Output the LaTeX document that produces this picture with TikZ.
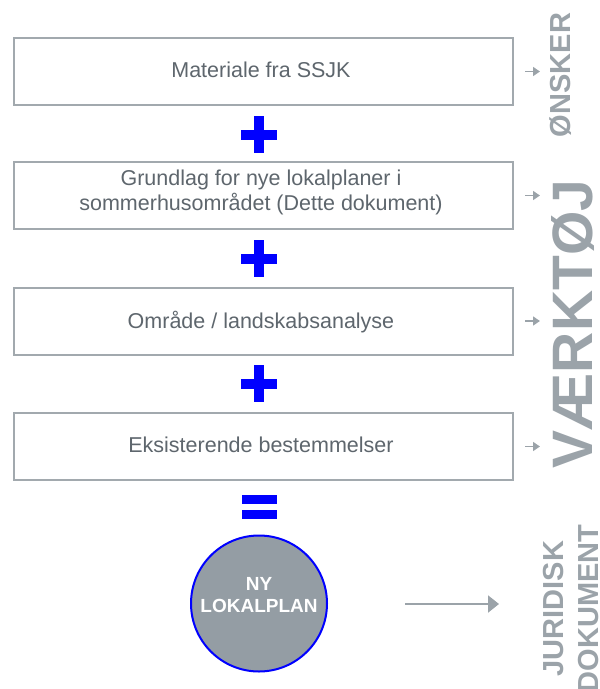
\documentclass[tikz,border=0pt]{standalone}
\usepackage{fontspec}
\setmainfont{Liberation Sans}
\usetikzlibrary{arrows.meta}
\definecolor{boxborder}{HTML}{A2A9AE}
\definecolor{boxtext}{HTML}{5E666D}
\definecolor{labelgray}{HTML}{9BA3A9}
\definecolor{circfill}{HTML}{949DA4}
\definecolor{plusblue}{HTML}{0000FF}
\tikzset{
  stepbox/.style={draw=boxborder, line width=2pt, fill=white, rectangle,
    minimum width=499pt, minimum height=67pt, inner sep=0pt},
  boxlabel/.style={text=boxtext, font=\fontsize{21.5}{25}\selectfont, inner sep=0pt},
  onelabel/.style={boxlabel, text height=15.5pt, text depth=4.5pt},
  sidelabel/.style={text=labelgray, rotate=90, anchor=base, inner sep=0pt},
  sidearrow/.style={draw=labelgray, line width=1.4pt, -{Triangle[length=7pt,width=9pt]}},
  bigarrow/.style={draw=labelgray, line width=2pt, -{Triangle[length=11pt,width=17pt]}},
  sign/.style={fill=plusblue},
}
\begin{document}
\begin{tikzpicture}[x=1pt,y=-1pt]
\useasboundingbox (0,0) rectangle (600,689);
% boxes
\node[stepbox] (b1) at (263.5,71.5) {};
\node[stepbox] (b2) at (263.5,195.5) {};
\node[stepbox] (b3) at (263.5,321) {};
\node[stepbox] (b4) at (263.5,446.5) {};
\node[onelabel] (t1) at (261,71.5) {Materiale fra SSJK};
\node[boxlabel, align=center] (t2) at (261,192) {Grundlag for nye lokalplaner i\\sommerhusområdet (Dette dokument)};
\node[onelabel] (t3) at (261,322.5) {Område / landskabsanalyse};
\node[onelabel] (t4) at (261,446.5) {Eksisterende bestemmelser};
% plus signs
\foreach \yy in {134.5,258.5,383.5}{
  \fill[sign] (254,\yy-18.5) rectangle (264,\yy+18.5);
  \fill[sign] (241,\yy-5) rectangle (277,\yy+5);
}
% equals sign
\fill[sign] (242,495) rectangle (277,504);
\fill[sign] (242,510) rectangle (277,519);
% circle
\node[circle, draw=plusblue, line width=2pt, fill=circfill, minimum size=136pt, inner sep=0pt] (lp) at (259,603.5) {};
\node[text=white, font=\bfseries\fontsize{19}{22}\selectfont, align=center, inner sep=0pt] (lpt) at (259,595.5) {NY\\LOKALPLAN};
% side arrows
\foreach \b in {b1,b2,b3,b4}{
  \draw[sidearrow] ([xshift=11pt]\b.east) -- ([xshift=26pt]\b.east);
}
% big arrow
\coordinate (a1) at (405,604);
\coordinate (a2) at (499,604);
\draw[bigarrow] (a1) -- (a2);
% side labels
\node[sidelabel, font=\bfseries\fontsize{29}{29}\selectfont] (l1) at (570,75) {ØNSKER};
\node[sidelabel, font=\bfseries\fontsize{57}{57}\selectfont] (l2) at (592,324) {VÆRKTØJ};
\node[sidelabel, font=\bfseries\fontsize{29}{29}\selectfont] (l3) at (563,608.5) {JURIDISK};
\node[sidelabel, font=\bfseries\fontsize{29}{29}\selectfont] (l4) at (598,608.5) {DOKUMENT};
\end{tikzpicture}
\end{document}
